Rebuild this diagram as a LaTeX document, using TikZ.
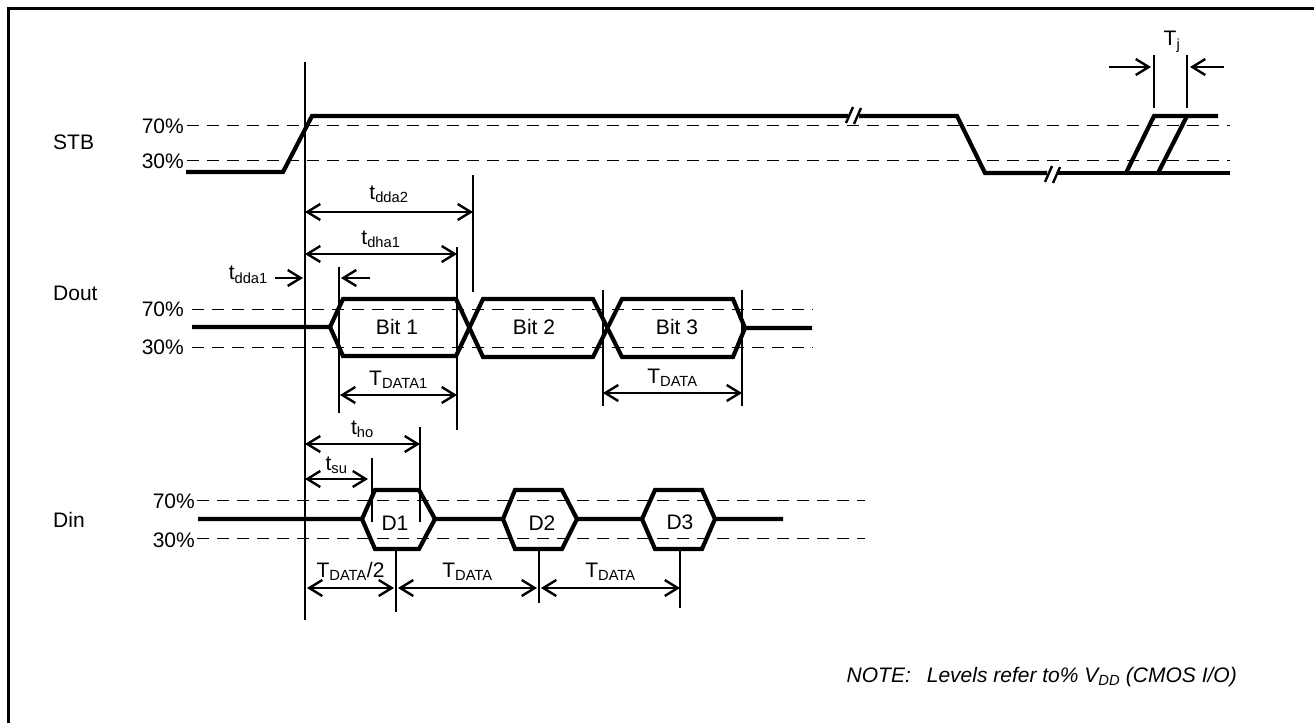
\documentclass[tikz,border=0pt]{standalone}
\usepackage{fontspec}
\setmainfont{Liberation Sans}
\usetikzlibrary{arrows.meta}

\begin{document}
\begin{tikzpicture}[x=1pt, y=-1pt,
      sig/.style={line width=4.2pt},
      refline/.style={line width=2pt},
      lvl/.style={line width=1pt, dash pattern=on 12pt off 8pt},
      dim/.style={line width=2.4pt, <->},
      pfeil/.style={line width=2.4pt, ->},
      >={Straight Barb[length=13pt,width=16pt]},
      lbl/.style={inner sep=0pt, font=\fontsize{21}{24}\selectfont},
      pct/.style={lbl, anchor=east}]

\useasboundingbox (0,0) rectangle (1314,723);
\draw[line width=3pt] (8,723) -- (8,8) -- (1314,8);

% signal names and levels
\node[lbl, anchor=west] (stb) at (53,142) {STB};
\node[lbl, anchor=west] (dout) at (53,293) {Dout};
\node[lbl, anchor=west] (din) at (53,520) {Din};
\node[pct] (s70) at (184,126) {70\%};
\node[pct] (s30) at (184,161) {30\%};
\node[pct] (o70) at (184,309) {70\%};
\node[pct] (o30) at (184,347) {30\%};
\node[pct] (i70) at (195,501) {70\%};
\node[pct] (i30) at (195,540) {30\%};
\coordinate (s70e) at (1230,125);
\coordinate (s30e) at (1230,160);
\coordinate (o70e) at (813,309);
\coordinate (o30e) at (813,347);
\coordinate (i70e) at (865,500);
\coordinate (i30e) at (865,538);
\draw[lvl] (187,125) -- (s70e);
\draw[lvl] (187,160) -- (s30e);
\draw[lvl] (192,309) -- (o70e);
\draw[lvl] (192,347) -- (o30e);
\draw[lvl] (197,500) -- (i70e);
\draw[lvl] (197,538) -- (i30e);

% STB
\draw[sig] (186,172) -- (283,172) -- (312,116) -- (848,116);
\draw[sig] (859,116) -- (957,116) -- (985,173) -- (1047,173);
\draw[sig] (1058,173) -- (1230,173);
\draw[sig] (1126,173) -- (1154,116) -- (1218,116);
\draw[sig] (1158,173) -- (1187,116);
\draw[refline, line width=2.4pt] (846,123) -- (853,107);
\draw[refline, line width=2.4pt] (854,124) -- (861,108);
\draw[refline, line width=2.4pt] (1045,182) -- (1052,166);
\draw[refline, line width=2.4pt] (1053,183) -- (1060,167);

% jitter
\coordinate (tja) at (1154,55);
\coordinate (tjb) at (1187,55);
\draw[refline] (tja) -- (1154,108);
\draw[refline] (tjb) -- (1187,108);
\node[lbl] (tj) at (1172,42) {T\textsubscript{j}};
\coordinate (tjl) at (1109,67);
\coordinate (tjr) at (1224,67);
\draw[pfeil] (tjl) -- (1151,67);
\draw[pfeil] (tjr) -- (1190,67);

% reference line
\coordinate (ref) at (305,62);
\draw[refline] (ref) -- (305,620);

% Dout
\draw[sig] (192,327) -- (330,327) -- (343,299) -- (456,299) -- (483,357) -- (593,357)
      -- (622,299) -- (733,299) -- (745,328) -- (812,328);
\draw[sig] (330,327) -- (343,356) -- (456,356) -- (483,299) -- (593,299)
      -- (622,357) -- (733,357) -- (745,328);
\node[lbl] (bit1) at (397,327) {Bit 1};
\node[lbl] (bit2) at (534,327) {Bit 2};
\node[lbl] (bit3) at (677,327) {Bit 3};

\coordinate (dda2) at (473,175);
\coordinate (dha1) at (457,247);
\coordinate (dda1) at (339,267);
\coordinate (b3l) at (603,290);
\coordinate (b3r) at (742,290);
\draw[refline] (dda2) -- (473,292);
\draw[refline] (dha1) -- (457,430);
\draw[refline] (dda1) -- (339,413);
\draw[refline] (b3l) -- (603,406);
\draw[refline] (b3r) -- (742,406);

\draw[dim] (305,212) -- node[lbl, above=8pt] (ldda2) {t\textsubscript{dda2}} (473,212);
\draw[dim] (305,254) -- node[lbl, above=5pt] (ldha1) {t\textsubscript{dha1}} (457,254);
\node[lbl, anchor=east] (ldda1) at (268,275) {t\textsubscript{dda1}};
\draw[pfeil] ([xshift=7pt,yshift=-3pt]ldda1.east) -- (303,278);
\draw[pfeil] (370,278) -- (341,278);
\draw[dim] (340,395) -- node[lbl, above=5pt] (ltd1) {T\textsubscript{DATA1}} (457,395);
\draw[dim] (603,393) -- node[lbl, above=5pt] (ltd) {T\textsubscript{DATA}} (742,393);

% Din
\draw[sig] (198,519) -- (362,519) -- (375,490) -- (419,490) -- (435,519) -- (503,519)
      -- (515,490) -- (562,490) -- (577,519) -- (642,519) -- (655,490) -- (702,490)
      -- (715,519) -- (783,519);
\draw[sig] (362,519) -- (375,549) -- (419,549) -- (435,519);
\draw[sig] (503,519) -- (515,549) -- (562,549) -- (577,519);
\draw[sig] (642,519) -- (655,549) -- (702,549) -- (715,519);
\node[lbl] (d1) at (395,523) {D1};
\node[lbl] (d2) at (542,523) {D2};
\node[lbl] (d3) at (680,522) {D3};

\coordinate (ho) at (420,427);
\coordinate (su) at (372,458);
\draw[refline] (ho) -- (420,522);
\draw[refline] (su) -- (372,522);
\draw[refline] (396,549) -- (396,612);
\draw[refline] (539,549) -- (539,603);
\draw[refline] (680,549) -- (680,608);

\draw[dim] (305,444) -- node[lbl, above=5pt] (lho) {t\textsubscript{ho}} (420,444);
\draw[dim] (305,479) -- node[lbl, above=4pt] (lsu) {t\textsubscript{su}} (368,479);
\draw[dim] (307,588) -- node[lbl, above=6pt] (lhalf) {T\textsubscript{DATA}/2} (394,588);
\draw[dim] (398,588) -- node[lbl, above=6pt] (ld2) {T\textsubscript{DATA}} (537,588);
\draw[dim] (541,588) -- node[lbl, above=6pt] (ld3) {T\textsubscript{DATA}} (680,588);

% note
\node[lbl, anchor=east, font=\fontsize{21}{24}\selectfont\itshape] (note) at (1237,677)
      {NOTE:\hspace{16pt}Levels refer to\% V\textsubscript{DD} (CMOS I/O)};

\end{tikzpicture}
\end{document}
